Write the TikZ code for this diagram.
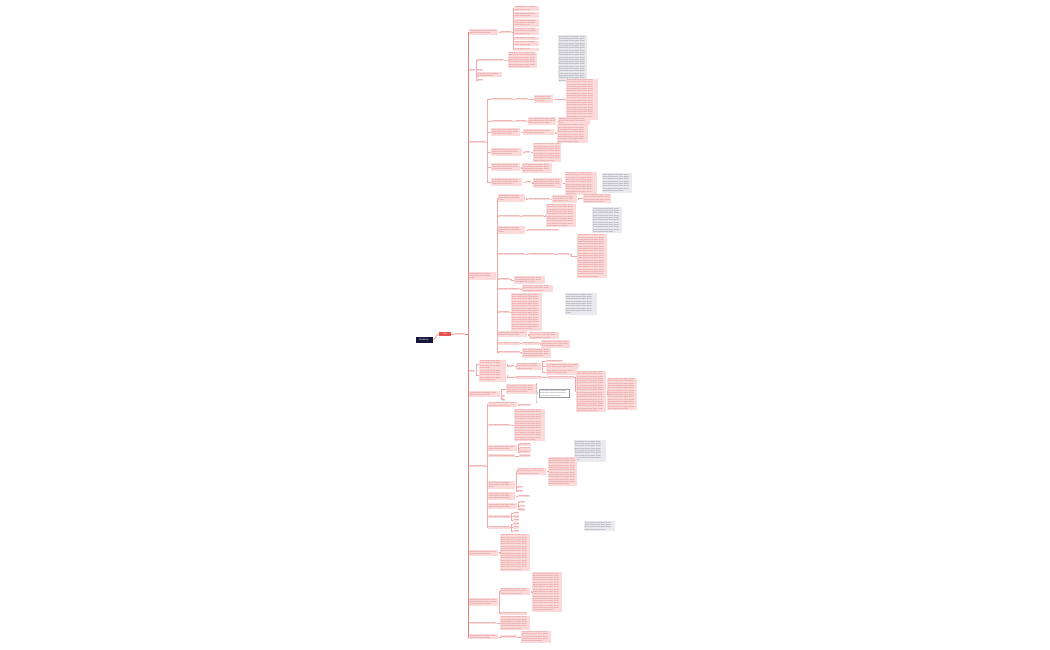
\documentclass[tikz,border=0pt]{standalone}
\usepackage{fontspec}
\setmainfont{Liberation Sans}
\usetikzlibrary{decorations.pathreplacing}
\definecolor{pk}{HTML}{FCDADA}
\definecolor{tx}{HTML}{D06A6A}
\definecolor{lc}{HTML}{F3A9A9}
\definecolor{ml}{HTML}{EE8080}
\definecolor{rd}{HTML}{E8524F}
\definecolor{nv}{HTML}{16163A}
\definecolor{gy}{HTML}{E9E9EE}
\definecolor{gt}{HTML}{6E6E7A}
\newcommand\ft{\fontsize{1.8pt}{2.3pt}\selectfont\hyphenpenalty=10000 }
\newcommand\wa[1]{\ifnum#1>0 lorem\ifnum#1>1 \space\wb{\the\numexpr#1-1\relax}\fi\fi}
\newcommand\wb[1]{\ifnum#1>0 ipsum\ifnum#1>1 \space\wa{\the\numexpr#1-1\relax}\fi\fi}
\newcommand\words[1]{\wa{#1}}

\begin{document}
\begin{tikzpicture}[x=1pt,y=-1pt,
  nd/.style={fill=pk,text=tx,font=\ft,inner xsep=0.8pt,inner ysep=0.6pt,anchor=west},
  bx/.style={nd,text width=#1pt,align=left},
  nt/.style={fill=gy,text=gt,font=\ft,inner sep=0.8pt,anchor=north west,text width=#1pt,align=left},
  wn/.style={draw=gt!70,line width=0.3pt,fill=white,text=gt,font=\ft,inner sep=0.8pt,anchor=west,text width=#1pt,align=left},
  ln/.style={draw=lc,line width=0.35pt},
  mln/.style={draw=ml,line width=0.6pt},
  br/.style={to path={-- ++(#1,0) |- (\tikztotarget)}},
  br/.default=1]
  \useasboundingbox (0,0) rectangle (1050,650);

  \node[fill=nv,text=white,font=\fontsize{2.2pt}{2.6pt}\selectfont,minimum width=17pt,minimum height=6pt,inner sep=0.5pt] (r) at (424,340) {Mindmap};
  \node[fill=rd,text=white,font=\ft,minimum width=12pt,minimum height=4pt,inner sep=0.5pt] (m) at (445,334) {Topic};
  \node[nd] (l0) at (453.5,334) {\words{2}};

  \node[bx=27.5] (a) at (469,32) {\words{9}};
  \node[nd] (b) at (469,70) {\words{1}};
  \node[nd] (c) at (469,142) {\words{3}};
  \node[bx=25.5] (d) at (469,276) {\words{9}};
  \node[nd] (e) at (469,371) {\words{1}};
  \node[bx=29.5] (f) at (469,394) {\words{9}};
  \node[nd] (g) at (469,466) {\words{3}};
  \node[bx=27.5] (h) at (469,553) {\words{9}};
  \node[bx=27.5] (i) at (469,602) {\words{14}};
  \node[nd] (j) at (469,623) {\words{5}};
  \node[bx=27.5] (k) at (469,636.8) {\words{9}};

  \node[nd] (a1) at (500,32) {\words{2}};
  \node[bx=23.5] (a11) at (514,8.5) {\words{7}};
  \node[bx=23.5] (a12) at (514,15) {\words{7}};
  \node[bx=23.5] (a13) at (514,23) {\words{11}};
  \node[bx=23.5] (a14) at (514,31.5) {\words{11}};
  \node[bx=23.5] (a15) at (514,38.5) {\words{4}};
  \node[bx=23.5] (a16) at (514,43.5) {\words{7}};
  \node[bx=23.5] (a17) at (514,49.5) {\words{3}};

  \node[nd] (b1) at (477,60) {\words{5}};
  \node[bx=27.5] (b11) at (508,60) {\words{34}};
  \node[nd] (b2) at (477,70) {\words{1}};
  \node[bx=23.5] (b3) at (477,74.8) {\words{7}};
  \node[nd] (b4) at (477,80) {\words{1}};
  \node[nt=27] (n1) at (558,35) {\words{99}};

  \node[nd] (c1) at (491,99) {\words{4}};
  \node[nd] (c11) at (516,99) {\words{2}};
  \node[bx=17.5] (c12) at (534,99) {\words{8}};
  \node[bx=30.5] (c13) at (566,99.5) {\words{88}};
  \node[nd] (c2) at (491,121) {\words{4}};
  \node[nd] (c21) at (515,121) {\words{2}};
  \node[bx=26.5] (c22) at (528,121) {\words{14}};
  \node[bx=30.5] (c23) at (558,121) {\words{11}};
  \node[bx=27.5] (c3) at (491,132) {\words{14}};
  \node[bx=29.5] (c31) at (523,132) {\words{9}};
  \node[bx=29.5] (c32) at (557,133.5) {\words{39}};
  \node[bx=29.5] (c4) at (491,152) {\words{14}};
  \node[nd] (c41) at (524,152) {\words{1}};
  \node[bx=26.5] (c42) at (533,152.5) {\words{39}};
  \node[bx=27.5] (c5) at (491,167) {\words{14}};
  \node[bx=28.5] (c51) at (522,168) {\words{19}};
  \node[bx=29.5] (c6) at (491,182) {\words{14}};
  \node[nd] (c61) at (525,182) {\words{1}};
  \node[bx=27.5] (c62) at (533,183) {\words{19}};
  \node[bx=30.5] (c63) at (565,183.5) {\words{47}};
  \node[nt=28.5] (n2) at (602,173) {\words{39}};

  \node[bx=25.5] (d1) at (498,198) {\words{9}};
  \node[nd] (d11) at (528,199) {\words{4}};
  \node[bx=23.5] (d12) at (552,199) {\words{11}};
  \node[bx=26.5] (d13) at (583,198.5) {\words{19}};
  \node[nd] (d2) at (498,216) {\words{4}};
  \node[nd] (d21) at (522,216) {\words{4}};
  \node[bx=28.5] (d22) at (546,215.5) {\words{49}};
  \node[nt=28.5] (n3) at (592,207) {\words{54}};
  \node[bx=25.5] (d3) at (498,230) {\words{9}};
  \node[nd] (d31) at (527,230) {\words{6}};
  \node[nd] (d4) at (498,254) {\words{5}};
  \node[nd] (d41) at (528,254) {\words{5}};
  \node[nd] (d42) at (558,254) {\words{2}};
  \node[bx=28.5] (d43) at (577,256) {\words{94}};
  \node[nd] (d5) at (498,279) {\words{2}};
  \node[bx=29.5] (d51) at (514,280) {\words{14}};
  \node[nd] (d6) at (498,289) {\words{4}};
  \node[bx=29.5] (d61) at (522,288.5) {\words{14}};
  \node[nd] (d7) at (498,312) {\words{2}};
  \node[bx=29.5] (d71) at (511,312) {\words{79}};
  \node[nt=30.5] (n4) at (565,293) {\words{41}};
  \node[bx=27.5] (d8) at (498,334) {\words{9}};
  \node[bx=28.5] (d81) at (529,335.5) {\words{14}};
  \node[nd] (d9) at (498,343.5) {\words{4}};
  \node[nd] (d91) at (522,343.5) {\words{3}};
  \node[bx=27.5] (d92) at (541,344) {\words{14}};
  \node[nd] (d10) at (498,352) {\words{4}};
  \node[bx=27.5] (d101) at (522,353) {\words{19}};

  \node[bx=25.5] (e1) at (479,364.5) {\words{14}};
  \node[nd] (e11) at (508,366) {\words{1}};
  \node[bx=23.5] (e12) at (516,366.5) {\words{11}};
  \node[nd] (e13) at (546,361) {\words{3}};
  \node[bx=31.5] (e14) at (546,366) {\words{11}};
  \node[bx=29.5] (e15) at (546,372) {\words{9}};
  \node[bx=25.5] (e2) at (479,375.5) {\words{19}};
  \node[nd] (e21) at (515,377.5) {\words{5}};
  \node[nd] (e22) at (547,377.5) {\words{5}};
  \node[bx=28.5] (e23) at (576,391.5) {\words{89}};
  \node[bx=28] (e24) at (607,394) {\words{69}};

  \node[bx=29.5] (f1) at (506,389) {\words{19}};
  \node[nd] (f2) at (502,395.8) {lo};
  \node[nd] (f3) at (502,399.6) {lo};
  \node[wn=28] (fw) at (539,393.5) {\words{14}};
  \draw[gt!80,line width=0.35pt,decorate,decoration={brace,amplitude=1.5pt}] (536,383) -- (536,403);

  \node[bx=27.5] (g1) at (488,404.5) {\words{9}};
  \node[nd] (g11) at (519,405) {\words{2}};
  \node[nd] (g2) at (488,425) {\words{4}};
  \node[bx=29.5] (g21) at (514,425) {\words{69}};
  \node[bx=27.5] (g3) at (488,448) {\words{9}};
  \node[nd] (g31) at (519,444.5) {\words{2}};
  \node[nd] (g32) at (519,448.2) {\words{2}};
  \node[nd] (g33) at (519,451.9) {\words{2}};
  \node[nd] (g4) at (488,455.8) {\words{5}};
  \node[nd] (g41) at (519,455.8) {\words{2}};
  \node[nt=30.5] (n5) at (574,440) {\words{41}};
  \node[bx=25.5] (g5) at (488,485) {\words{9}};
  \node[bx=27.5] (g51) at (517,471.5) {\words{14}};
  \node[bx=27.5] (g52) at (548,471.5) {\words{59}};
  \node[nd] (g53) at (517,487.2) {\words{1}};
  \node[nd] (g54) at (517,491) {\words{1}};
  \node[bx=25.5] (g6) at (488,496) {\words{12}};
  \node[nd] (g61) at (518,496) {\words{2}};
  \node[bx=27.5] (g7) at (488,506) {\words{9}};
  \node[nd] (g71) at (519,502.2) {\words{1}};
  \node[nd] (g72) at (519,505.8) {\words{1}};
  \node[nd] (g73) at (519,509.4) {\words{1}};
  \node[nd] (g8) at (488,516.6) {\words{4}};
  \node[nd] (g81) at (513,512.9) {\words{1}};
  \node[nd] (g82) at (513,516.5) {\words{1}};
  \node[nd] (g83) at (513,520.1) {\words{1}};
  \node[nd] (g9) at (488,527.4) {\words{4}};
  \node[nd] (g91) at (513,523.7) {\words{1}};
  \node[nd] (g92) at (513,527.3) {\words{1}};
  \node[nd] (g93) at (513,530.9) {\words{1}};
  \node[nt=29.5] (n6) at (584,521) {\words{19}};

  \node[bx=28.5] (h1) at (500,552.5) {\words{79}};
  \node[bx=28.5] (i1) at (500,591.5) {\words{14}};
  \node[bx=28.5] (i2) at (532,592) {\words{84}};
  \node[nd] (i3) at (500,613.2) {\words{5}};
  \node[bx=28.5] (j1) at (500,623) {\words{29}};
  \node[nd] (k1) at (500,636.8) {\words{3}};
  \node[bx=28.5] (k2) at (521,636.8) {\words{24}};

  \draw[mln] (r.east) to[out=0,in=180] (m.west);
  \draw[ln] (m.east) -- (l0.west);
  \foreach \n in {a,...,k}
    \draw[mln] (l0.east) to[br=2.5] (\n.west);
  \foreach \p/\c in {a/a1,a1/a11,a1/a12,a1/a13,a1/a14,a1/a15,a1/a16,a1/a17,
      b/b1,b1/b11,b/b2,b/b3,b/b4,
      c/c1,c1/c11,c11/c12,c12/c13,c/c2,c2/c21,c21/c22,c22/c23,c/c3,c3/c31,c31/c32,
      c/c4,c4/c41,c41/c42,c/c5,c5/c51,c/c6,c6/c61,c61/c62,c62/c63,
      d/d1,d1/d11,d11/d12,d12/d13,d/d2,d2/d21,d21/d22,d/d3,d3/d31,d/d4,d4/d41,d41/d42,d42/d43,
      d/d5,d5/d51,d/d6,d6/d61,d/d7,d7/d71,d/d8,d8/d81,d/d9,d9/d91,d91/d92,d/d10,d10/d101,
      e/e1,e1/e11,e11/e12,e12/e13,e12/e14,e12/e15,e/e2,e2/e21,e21/e22,e22/e23,e23/e24,
      f/f1,f/f2,f/f3,
      g/g1,g1/g11,g/g2,g2/g21,g/g3,g3/g31,g3/g32,g3/g33,g/g4,g4/g41,g/g5,g5/g51,g51/g52,g5/g53,g5/g54,
      g/g6,g6/g61,g/g7,g7/g71,g7/g72,g7/g73,g/g8,g8/g81,g8/g82,g8/g83,g/g9,g9/g91,g9/g92,g9/g93,
      h/h1,i/i1,i1/i2,i/i3,j/j1,k/k1,k1/k2}
    \draw[ln] (\p.east) to[br] (\c.west);
\end{tikzpicture}
\end{document}
